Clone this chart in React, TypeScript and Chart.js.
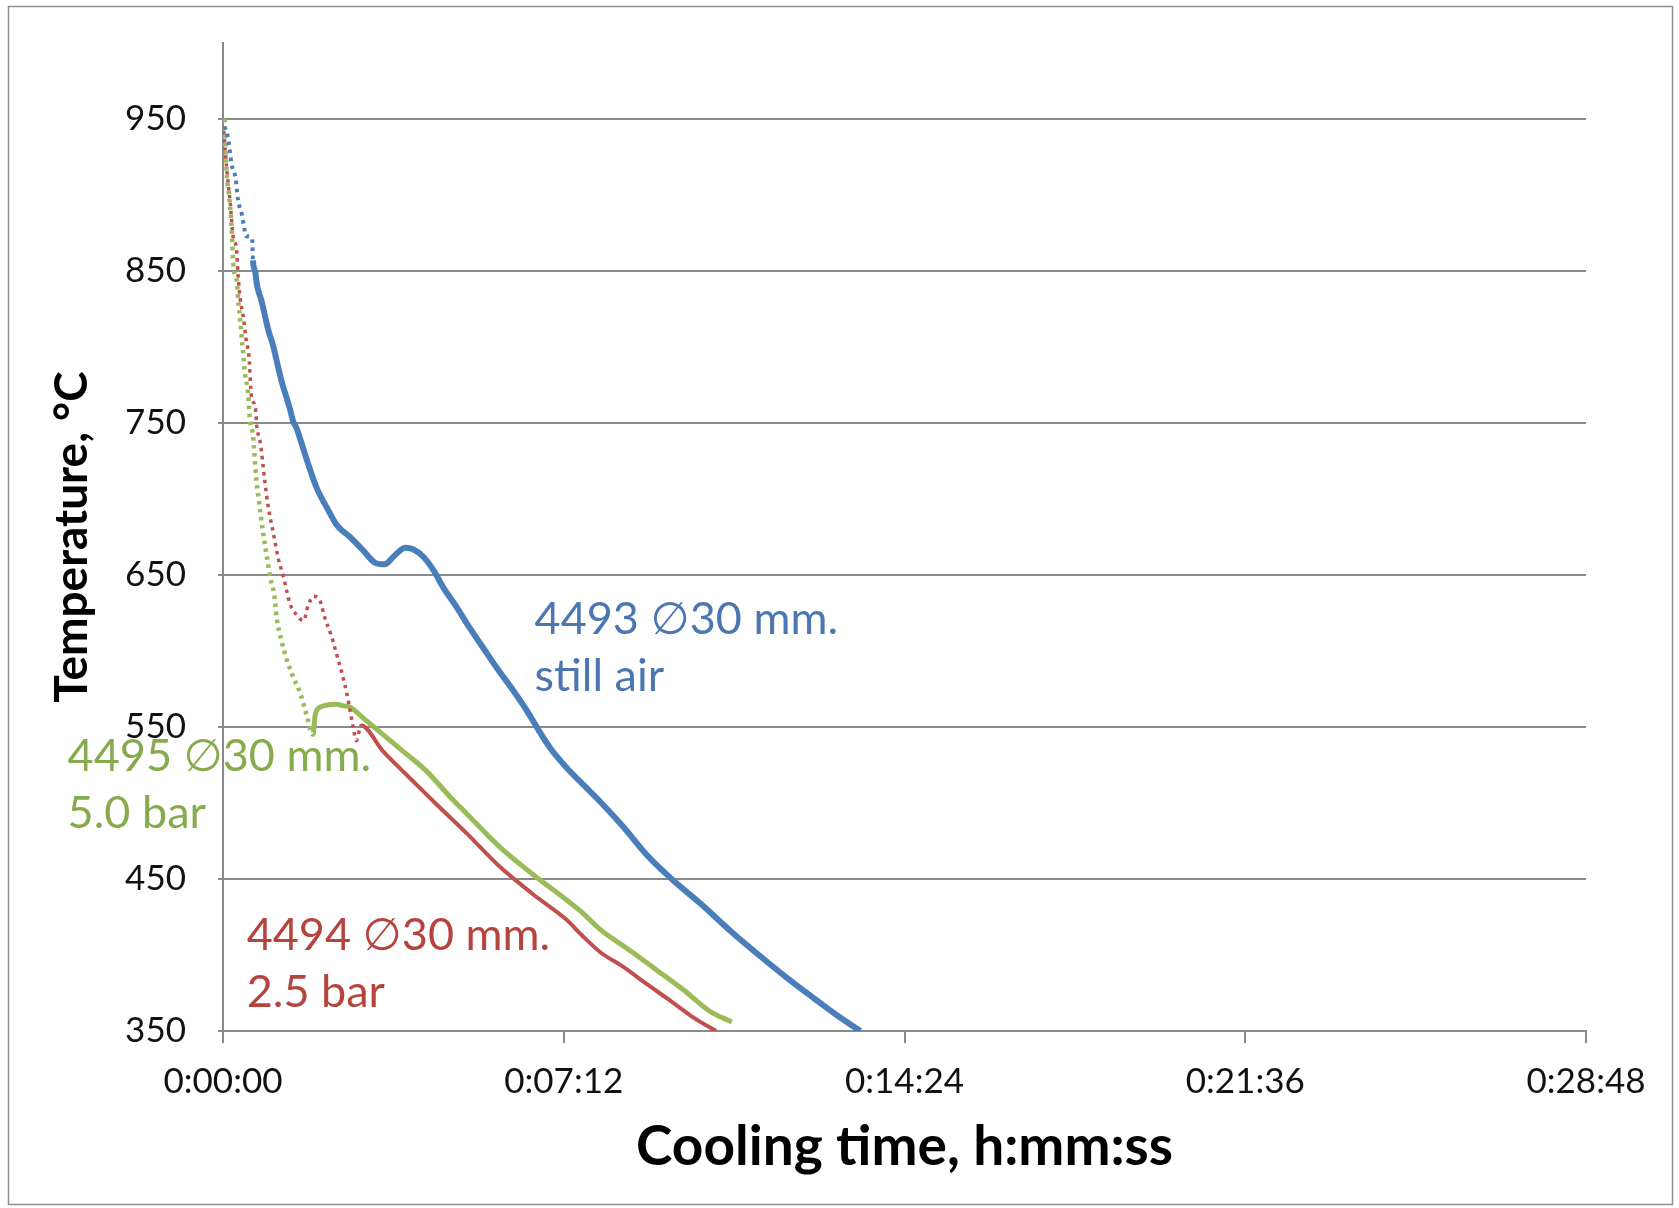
import React, { useEffect, useRef } from "react";
import { Chart, registerables } from "chart.js";

Chart.register(...registerables);

// ---- axis definitions ----
const yTickValues = [350, 450, 550, 650, 750, 850, 950];
const yMin = 350;
const yMax = 1000;
const xTickValues = [0, 432, 864, 1296, 1728]; // seconds: 0:00:00 ... 0:28:48
const xMin = 0;
const xMax = 1728;

// ---- series (time in seconds, temperature in °C) ----
// 4493 Ø30 mm, still air
const blueTime = [1, 5, 9, 11, 16, 19, 24, 27, 29, 37, 38, 41, 43, 49, 53, 57, 64, 68, 74, 81, 85, 89, 93, 100, 108, 119, 132, 144, 161, 178, 193, 205, 216, 231, 241, 254, 267, 279, 296, 313, 330, 347, 368, 385, 400, 415, 436, 453, 478, 508, 537, 571, 605, 643, 677, 715, 748, 782, 808];
const blueTemp = [945, 941, 928, 920, 911, 897, 887, 878, 873, 871, 857, 849, 841, 830, 821, 812, 800, 791, 778, 766, 759, 751, 747, 736, 723, 707, 694, 683, 675, 666, 658, 657, 662, 668, 667, 662, 653, 642, 629, 615, 602, 589, 574, 561, 548, 536, 523, 514, 501, 484, 466, 449, 434, 416, 401, 385, 372, 359, 350];

// 4494 Ø30 mm, 2.5 bar
const redTime = [1, 3, 7, 9, 13, 17, 19, 22, 26, 29, 33, 36, 41, 43, 47, 53, 57, 64, 70, 77, 85, 93, 102, 108, 115, 123, 129, 138, 144, 151, 157, 161, 165, 169, 175, 203, 226, 267, 309, 351, 393, 436, 453, 478, 508, 537, 567, 596, 625];
const redTemp = [942, 928, 905, 896, 872, 865, 848, 831, 819, 806, 793, 768, 760, 747, 738, 712, 696, 677, 661, 648, 631, 624, 620, 630, 636, 633, 622, 609, 598, 585, 572, 561, 550, 541, 551, 534, 522, 501, 480, 458, 440, 423, 414, 402, 392, 381, 370, 359, 350];

// 4495 Ø30 mm, 5.0 bar
const greenTime = [2, 5, 7, 9, 11, 13, 18, 19, 22, 25, 28, 32, 34, 38, 42, 45, 51, 55, 60, 65, 68, 74, 81, 89, 98, 106, 114, 117, 123, 144, 152, 161, 182, 203, 226, 258, 288, 309, 351, 393, 436, 453, 480, 516, 550, 584, 617, 645];
const greenTemp = [950, 911, 903, 892, 878, 855, 841, 832, 817, 799, 782, 769, 753, 742, 714, 701, 677, 664, 648, 637, 622, 607, 594, 583, 572, 558, 545, 558, 563, 565, 564, 563, 554, 545, 535, 521, 504, 493, 471, 453, 436, 429, 416, 403, 390, 377, 363, 356];

// ---- in-chart labels ----
const blueLabel = ["4493 \u220530 mm.", "still air"];
const redLabel = ["4494 \u220530 mm.", "2.5 bar"];
const greenLabel = ["4495 \u220530 mm.", "5.0 bar"];

const xTitle = "Cooling time, h:mm:ss";
const yTitle = "Temperature, \u00B0C";

const fmtTime = (s: number) => {
  const h = Math.floor(s / 3600);
  const m = Math.floor((s % 3600) / 60);
  const sec = Math.round(s % 60);
  return `${h}:${String(m).padStart(2, "0")}:${String(sec).padStart(2, "0")}`;
};

const toPoints = (t: number[], v: number[]) => t.map((x, i) => ({ x, y: v[i] }));

const GRID = "#8a8a8a";
const FONT = "Lato, 'Open Sans', 'DejaVu Sans', sans-serif";

export default function App() {
  const ref = useRef<HTMLCanvasElement | null>(null);

  useEffect(() => {
    if (!ref.current) return;

    const labels = [
      { lines: blueLabel, color: "#4A77B2", at: { x: 395, y: 611 } },
      { lines: greenLabel, color: "#86AB4D", at: { x: -197, y: 521 } },
      { lines: redLabel, color: "#B5443F", at: { x: 30, y: 403 } },
    ];

    const framePlugin = {
      id: "frame",
      beforeDraw(chart: any) {
        const { ctx } = chart;
        ctx.save();
        ctx.strokeStyle = "#8e8e8e";
        ctx.lineWidth = 1.5;
        ctx.strokeRect(8.5, 6.5, 1664, 1198);
        ctx.restore();
      },
      afterDatasetsDraw(chart: any) {
        const { ctx } = chart;
        const xs = chart.scales.x;
        const ys = chart.scales.y;
        ctx.save();
        ctx.font = `45px ${FONT}`;
        ctx.textAlign = "left";
        ctx.textBaseline = "alphabetic";
        labels.forEach((l) => {
          const px = xs.getPixelForValue(l.at.x);
          const py = ys.getPixelForValue(l.at.y);
          ctx.fillStyle = l.color;
          l.lines.forEach((line, i) => ctx.fillText(line, px, py + i * 57));
        });
        ctx.restore();
      },
    };

    const series = (data: any[], color: string, width: number, dottedUntil: number, dotWidth: number) => ({
      data,
      showLine: true,
      borderColor: color,
      backgroundColor: color,
      borderWidth: width,
      pointRadius: 0,
      cubicInterpolationMode: "monotone" as const,
      borderJoinStyle: "round" as const,
      borderCapStyle: "butt" as const,
      segment: {
        borderDash: (c: any) => (c.p1.parsed.x <= dottedUntil ? [3.5, 4.5] : undefined),
        borderWidth: (c: any) => (c.p1.parsed.x <= dottedUntil ? dotWidth : width),
      },
    });

    const chart = new Chart(ref.current, {
      type: "scatter",
      data: {
        datasets: [
          series(toPoints(blueTime, blueTemp), "#4A7EBB", 6, 38, 4),
          series(toPoints(redTime, redTemp), "#C0504D", 4, 175, 3.5),
          series(toPoints(greenTime, greenTemp), "#9BBB59", 5, 114, 4.5),
        ],
      },
      options: {
        responsive: false,
        animation: false,
        events: [],
        layout: { padding: { left: 0, right: 93, top: 43, bottom: 0 } },
        plugins: { legend: { display: false }, tooltip: { enabled: false } },
        scales: {
          x: {
            type: "linear",
            min: xMin,
            max: xMax,
            afterBuildTicks: (s: any) => {
              s.ticks = xTickValues.map((value) => ({ value }));
            },
            afterFit: (s: any) => {
              s.height = 177;
            },
            grid: { drawOnChartArea: false, drawTicks: true, tickLength: 12, color: GRID, lineWidth: 2 },
            border: { color: GRID, width: 2 },
            ticks: {
              font: { family: FONT, size: 35 },
              color: "#111",
              padding: 18,
              maxRotation: 0,
              autoSkip: false,
              callback: (v: any) => fmtTime(Number(v)),
            },
            title: {
              display: true,
              text: xTitle,
              color: "#000",
              font: { family: FONT, size: 55, weight: "bold" },
              padding: { top: 0, bottom: 28 },
            },
          },
          y: {
            type: "linear",
            min: yMin,
            max: yMax,
            afterBuildTicks: (s: any) => {
              s.ticks = yTickValues.map((value) => ({ value }));
            },
            afterFit: (s: any) => {
              s.width = 223;
              s.paddingTop = 0;
              s.paddingBottom = 0;
            },
            grid: { color: GRID, lineWidth: 2, tickLength: 5 },
            border: { color: GRID, width: 2 },
            ticks: {
              font: { family: FONT, size: 35 },
              color: "#111",
              padding: 32,
              autoSkip: false,
            },
            title: {
              display: true,
              text: yTitle,
              color: "#000",
              font: { family: FONT, size: 46, weight: "bold" },
              padding: { top: 45, bottom: 0 },
            },
          },
        },
      },
      plugins: [framePlugin],
    } as any);

    return () => chart.destroy();
  }, []);

  return (
    <div style={{ position: "absolute", left: 0, top: 0, width: 1679, height: 1208, background: "#fff" }}>
      <canvas ref={ref} width={1679} height={1208} style={{ display: "block" }} />
    </div>
  );
}
